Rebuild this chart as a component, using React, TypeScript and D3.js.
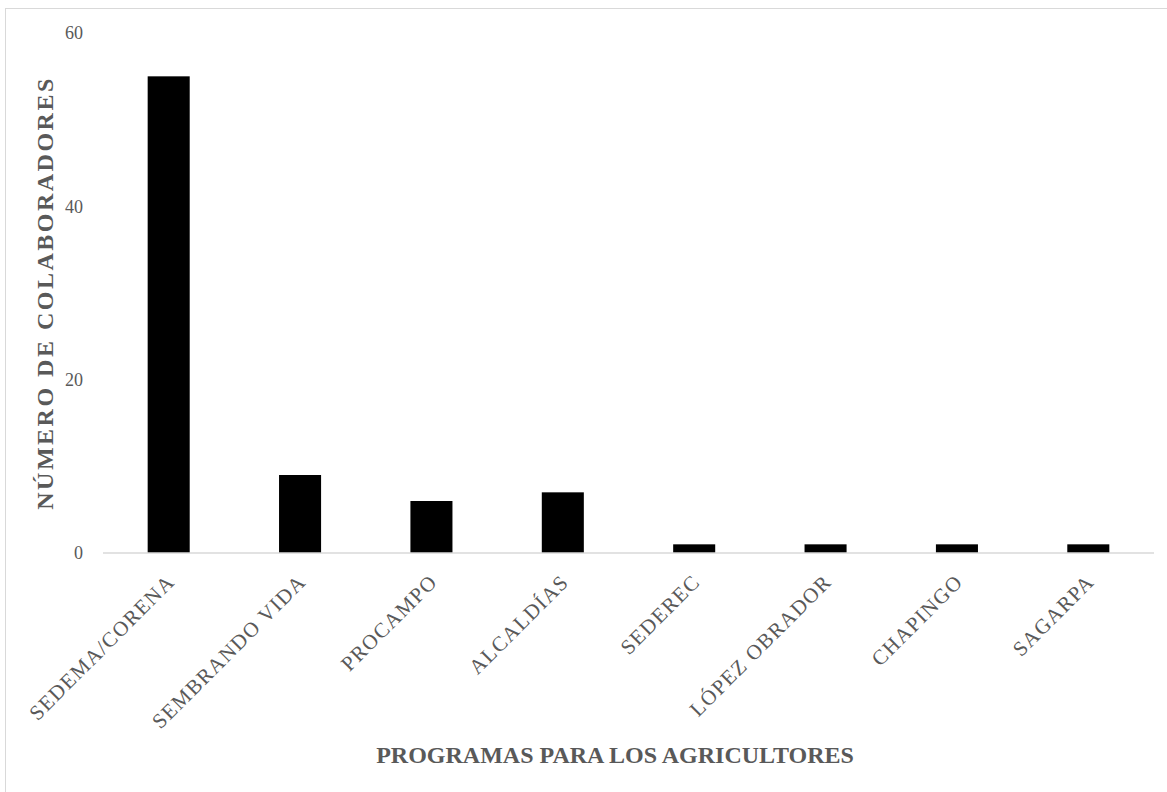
import { useRef, useEffect } from 'react'
import * as d3 from 'd3'

const programas = [
  'SEDEMA/CORENA',
  'SEMBRANDO VIDA',
  'PROCAMPO',
  'ALCALDÍAS',
  'SEDEREC',
  'LÓPEZ OBRADOR',
  'CHAPINGO',
  'SAGARPA',
]
const colaboradores = [55, 9, 6, 7, 1, 1, 1, 1]
const yTicks = [0, 20, 40, 60]

const width = 1167
const height = 792
const font = '"Liberation Serif", "Times New Roman", serif'

export default function App() {
  const svgRef = useRef<SVGSVGElement>(null)

  useEffect(() => {
    if (!svgRef.current) return
    const svg = d3.select(svgRef.current)
    svg.selectAll('*').remove()

    const margin = { left: 103, right: 1154, top: 33, bottom: 553 }

    // chart frame
    svg.append('rect')
      .attr('x', 5.5)
      .attr('y', 8.5)
      .attr('width', width + 10)
      .attr('height', height + 10)
      .attr('fill', 'white')
      .attr('stroke', '#d9d9d9')
      .attr('stroke-width', 1)

    const x = d3.scaleBand<string>()
      .domain(programas)
      .range([margin.left, margin.right])
      .paddingInner(0.68)
      .paddingOuter(0.34)

    const y = d3.scaleLinear()
      .domain([0, 60])
      .range([margin.bottom, margin.top])

    // y tick labels
    svg.append('g')
      .selectAll('text')
      .data(yTicks)
      .enter()
      .append('text')
      .attr('x', 83)
      .attr('y', d => y(d))
      .attr('dy', '0.35em')
      .attr('text-anchor', 'end')
      .style('font-family', font)
      .style('font-size', '18px')
      .style('fill', '#595959')
      .text(d => d)

    // bars
    svg.append('g')
      .selectAll('rect')
      .data(colaboradores)
      .enter()
      .append('rect')
      .attr('x', (d, i) => x(programas[i]) as number)
      .attr('y', d => y(d))
      .attr('width', x.bandwidth())
      .attr('height', d => y(0) - y(d))
      .attr('fill', '#000')

    // baseline
    svg.append('line')
      .attr('x1', margin.left)
      .attr('x2', margin.right)
      .attr('y1', y(0))
      .attr('y2', y(0))
      .attr('stroke', '#d9d9d9')
      .attr('stroke-width', 1.5)

    // category labels
    svg.append('g')
      .selectAll('text')
      .data(programas)
      .enter()
      .append('text')
      .attr('transform', d => `translate(${(x(d) as number) + x.bandwidth() / 2 + 2},${y(0) + 25}) rotate(-45)`)
      .attr('text-anchor', 'end')
      .attr('dy', '0.35em')
      .style('font-family', font)
      .style('font-size', '21px')
      .style('letter-spacing', '1.3px')
      .style('fill', '#595959')
      .text(d => d)

    // axis titles
    svg.append('text')
      .attr('transform', `translate(45,${(margin.top + margin.bottom) / 2}) rotate(-90)`)
      .attr('text-anchor', 'middle')
      .attr('dy', '0.35em')
      .style('font-family', font)
      .style('font-size', '24px')
      .style('font-weight', 'bold')
      .style('letter-spacing', '2.5px')
      .style('fill', '#595959')
      .text('NÚMERO DE COLABORADORES')

    svg.append('text')
      .attr('x', 615)
      .attr('y', 763)
      .attr('text-anchor', 'middle')
      .style('font-family', font)
      .style('font-size', '24px')
      .style('font-weight', 'bold')
      .style('fill', '#595959')
      .text('PROGRAMAS PARA LOS AGRICULTORES')
  }, [])

  return (
    <svg
      ref={svgRef}
      width={width}
      height={height}
      style={{ position: 'absolute', left: 0, top: 0, background: 'white' }}
    />
  )
}
